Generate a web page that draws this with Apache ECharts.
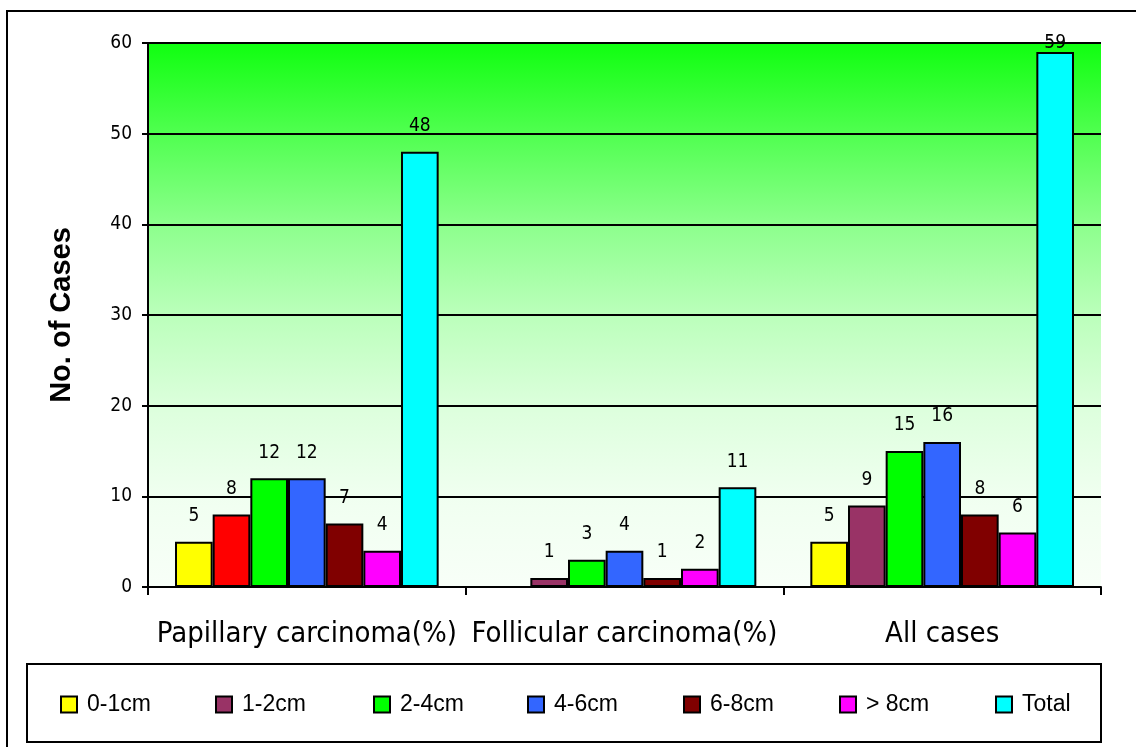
<!DOCTYPE html>
<html>
<head>
<meta charset="utf-8">
<script src="https://cdn.jsdelivr.net/npm/echarts@6/dist/echarts.min.js"></script>
<style>
  html, body { margin: 0; padding: 0; background: #ffffff; }
  #chart { width: 1136px; height: 747px; }
</style>
</head>
<body>
<div id="chart"></div>
<script>
// Tumour size groups per carcinoma type
const categories = ['Papillary carcinoma(%)', 'Follicular carcinoma(%)', 'All cases'];
const sizeGroups = ['0-1cm', '1-2cm', '2-4cm', '4-6cm', '6-8cm', '> 8cm', 'Total'];

const cm0to1   = [5, null, 5];
const cm1to2   = [8, 1, 9];
const cm2to4   = [12, 3, 15];
const cm4to6   = [12, 4, 16];
const cm6to8   = [7, 1, 8];
const cmOver8  = [4, 2, 6];
const totals   = [48, 11, 59];

const yTicks = { min: 0, max: 60, interval: 10 };

const groupColors = ['#FFFF00', '#993366', '#00FF00', '#3366FF', '#800000', '#FF00FF', '#00FFFF'];
const legendLeft = [60, 215, 373, 527, 683, 839, 995];

const seriesValues = [cm0to1, cm1to2, cm2to4, cm4to6, cm6to8, cmOver8, totals];

const tickFont = '"DejaVu Sans Condensed", Tahoma, "DejaVu Sans", sans-serif';
const legendFont = '"Liberation Sans Narrow", "Arial Narrow", "Liberation Sans", Arial, sans-serif';

const series = seriesValues.map((vals, si) => ({
  name: sizeGroups[si],
  type: 'bar',
  barGap: '0%',
  barCategoryGap: '17%',
  itemStyle: { color: groupColors[si], borderColor: '#000', borderWidth: 2 },
  label: {
    show: true,
    position: 'top',
    distance: 16,
    color: '#000',
    fontSize: 19,
    fontFamily: tickFont
  },
  data: vals.map((v, ci) => {
    const item = { value: v };
    // papillary 1-2cm bar is drawn in red
    if (si === 1 && ci === 0) item.itemStyle = { color: '#FF0000' };
    // the top label sits on the plot's upper edge
    if (v === 59) item.label = { distance: 0 };
    return item;
  })
}));

const chart = echarts.init(document.getElementById('chart'));
chart.setOption({
  animation: false,
  backgroundColor: '#ffffff',
  grid: {
    left: 148, top: 43, right: 35, bottom: 160,
    show: true,
    borderWidth: 0,
    backgroundColor: new echarts.graphic.LinearGradient(0, 0, 0, 1, [
      { offset: 0, color: '#10ff10' },
      { offset: 1 / 6, color: '#50ff50' },
      { offset: 2 / 6, color: '#8cff8c' },
      { offset: 3 / 6, color: '#bbffbb' },
      { offset: 4 / 6, color: '#dcffdc' },
      { offset: 5 / 6, color: '#f0fff0' },
      { offset: 1, color: '#f8fff8' }
    ])
  },
  legend: sizeGroups.map((name, i) => ({
    data: [name],
    left: legendLeft[i],
    top: 693,
    padding: 0,
    icon: 'rect',
    itemWidth: 16,
    itemHeight: 16,
    textStyle: { fontSize: 23, color: '#000', fontFamily: legendFont, padding: [0, 0, 0, 5] },
    selectedMode: false
  })),
  graphic: [
    { type: 'rect', z: -10, shape: { x: 7, y: 11, width: 1200, height: 800 },
      style: { fill: 'none', stroke: '#000', lineWidth: 2 } },
    { type: 'rect', z: -10, shape: { x: 27, y: 664, width: 1074, height: 78 },
      style: { fill: '#fff', stroke: '#000', lineWidth: 2 } }
  ],
  xAxis: {
    type: 'category',
    data: categories,
    axisLine: { lineStyle: { color: '#000', width: 2 } },
    axisTick: { show: true, length: 8, lineStyle: { color: '#000', width: 2 } },
    axisLabel: { color: '#000', fontSize: 29, margin: 33, fontFamily: tickFont, interval: 0 }
  },
  yAxis: {
    type: 'value',
    min: yTicks.min, max: yTicks.max, interval: yTicks.interval,
    name: 'No. of Cases',
    nameLocation: 'middle',
    nameGap: 72,
    nameTextStyle: { fontSize: 29, fontWeight: 'bold', color: '#000', fontFamily: '"Liberation Sans", Arial, sans-serif' },
    axisLine: { show: true, lineStyle: { color: '#000', width: 2 } },
    axisTick: { show: true, length: 6, lineStyle: { color: '#000', width: 2 } },
    axisLabel: { color: '#000', fontSize: 19, margin: 16, fontFamily: tickFont },
    splitLine: { show: true, lineStyle: { color: '#000', width: 2 } }
  },
  series: series
});
</script>
</body>
</html>
